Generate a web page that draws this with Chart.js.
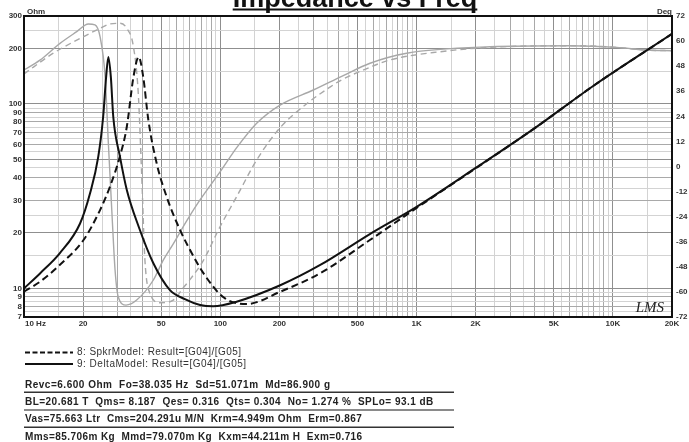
<!DOCTYPE html>
<html><head><meta charset="utf-8">
<script src="https://cdn.jsdelivr.net/npm/chart.js@4.4.1/dist/chart.umd.min.js"></script>
<style>html,body{margin:0;padding:0;background:#fff;}canvas{display:block;}</style>
</head><body>
<canvas id="c" width="689" height="442"></canvas>
<script>
// ---- Impedance (Ohm), DeltaModel (solid black)
const freqZDelta = [10, 12.1, 15.2, 19.3, 21.7, 23.9, 25.3, 26.2, 26.9, 27.7, 28.5, 30.8, 33.4, 38.4, 45.6, 55.4, 66, 78.9, 92, 121, 202, 323, 578, 1000, 2000, 4000, 8000, 20000];
const zDelta     = [10.0, 12.1, 15.5, 22.5, 32.8, 51.8, 85, 140, 180, 140, 85, 52, 34.2, 21.6, 13.7, 9.8, 8.75, 8.13, 8.0, 8.47, 10.4, 13.4, 19.7, 27.7, 45, 74, 126, 240];
// ---- Impedance (Ohm), SpkrModel (dashed black)
const freqZSpkr = [10, 12.1, 15.2, 20.1, 24.4, 27.4, 30.8, 33.4, 36.1, 38.4, 40.5, 43, 47.4, 53.3, 62.4, 73.1, 82, 103.8, 136, 202, 323, 578, 1000, 2000, 4000, 8000, 20000];
const zSpkr     = [9.6, 10.9, 13.4, 18.3, 26.6, 35.6, 52, 75.3, 140, 180, 140, 81.9, 47.7, 31.4, 20.7, 14.9, 12.1, 8.95, 8.23, 9.6, 12.1, 18.3, 27.3, 44.8, 74, 126, 240];
// ---- Phase (Deg), DeltaModel (solid grey)
const freqPDelta = [10, 12.06, 15.25, 18.56, 21.27, 23.0, 24.4, 25.9, 26.9, 28.0, 29.1, 30.2, 33.1, 37.5, 45.6, 51.3, 57.6, 67.4, 78.8, 101.6, 121.2, 153.2, 201.5, 297.7, 423, 579, 890, 2365, 6046, 10450, 14870, 20000];
const pDelta     = [46.2, 50.9, 58.9, 64.5, 68.2, 67.7, 62.1, 43, 11.1, -20.8, -49.5, -62.3, -66.3, -63.9, -54.3, -44.7, -37, -26, -16, -1.5, 9, 20.7, 29.4, 36.6, 43.5, 49.4, 54.2, 57.3, 57.8, 57, 55.7, 55.4];
// ---- Phase (Deg), SpkrModel (dashed grey)
const freqPSpkr = [10, 14.1, 20.86, 24.4, 27.4, 30.8, 33.4, 36.1, 38.2, 39.8, 41.3, 43.8, 49.3, 57.6, 64.8, 70.2, 81.9, 99.7, 121.2, 153.2, 201.5, 275.5, 362, 407, 579, 732, 1316, 2365, 6046, 10450, 14870, 20000];
const pSpkr     = [44.3, 54.2, 62.9, 66.1, 68.2, 68.5, 66.1, 57.3, 35, -4.9, -44.7, -60.7, -65.2, -63.9, -58, -54, -45, -28.8, -14.4, 3.1, 18.5, 30, 38, 41, 47.5, 51, 54.9, 57, 57.8, 57, 55.7, 55.4];

// ---- Axis tick labels
const xLabelValues = [10, 20, 50, 100, 200, 500, 1000, 2000, 5000, 10000, 20000];
const xLabelTexts  = ['10 Hz', '20', '50', '100', '200', '500', '1K', '2K', '5K', '10K', '20K'];
const yLabelValues = [300, 200, 100, 90, 80, 70, 60, 50, 40, 30, 20, 10, 9, 8, 7];
const y2LabelValues = [72, 60, 48, 36, 24, 12, 0, -12, -24, -36, -48, -60, -72];

// ---- Legend / parameter texts
const legendTexts = ['8: SpkrModel: Result=[G04]/[G05]', '9: DeltaModel: Result=[G04]/[G05]'];
const paramRows = [
  'Revc=6.600 Ohm  Fo=38.035 Hz  Sd=51.071m  Md=86.900 g',
  'BL=20.681 T  Qms= 8.187  Qes= 0.316  Qts= 0.304  No= 1.274 %  SPLo= 93.1 dB',
  'Vas=75.663 Ltr  Cms=204.291u M/N  Krm=4.949m Ohm  Erm=0.867',
  'Mms=85.706m Kg  Mmd=79.070m Kg  Kxm=44.211m H  Exm=0.716'
];

// grid positions: every half-step of the mantissa
function halfSteps(lo, hi) {
  const out = [];
  for (let d = 1; d <= 10000; d *= 10) {
    for (let m = 1; m < 10; m += 0.5) {
      const v = +(m * d).toFixed(3);
      if (v >= lo && v <= hi) out.push(v);
    }
  }
  if (out[out.length - 1] !== hi) out.push(hi);
  return out;
}
const xGridValues = halfSteps(10, 20000);
const yGridValues = halfSteps(7, 300);

function gridColor(v) {
  const p = Math.pow(10, Math.floor(Math.log10(v) + 1e-9));
  const m = Math.round(v / p * 10) / 10;
  if (m === 1 || m === 2 || m === 5) return '#8f8f8f';
  if (Number.isInteger(m)) return '#a9a9a9';
  return '#d3d3d3';
}
const pts = (xs, ys) => xs.map((x, i) => ({ x, y: ys[i] }));

const FONT = '"Liberation Sans", Arial, Helvetica, sans-serif';
function fitText(ctx, text, x, y, width) {
  const w = ctx.measureText(text).width;
  const n = text.length;
  if ('letterSpacing' in ctx && n > 1) {
    ctx.letterSpacing = ((width - w) / (n - 1)).toFixed(2) + 'px';
  }
  ctx.fillText(text, x, y);
  if ('letterSpacing' in ctx) ctx.letterSpacing = '0px';
}

const overlay = {
  id: 'overlay',
  afterDraw(chart) {
    const { ctx, chartArea: a, scales } = chart;
    ctx.save();
    // frame
    ctx.strokeStyle = '#111';
    ctx.lineWidth = 2;
    ctx.strokeRect(a.left, a.top, a.right - a.left, a.bottom - a.top);

    // title
    ctx.fillStyle = '#111';
    ctx.font = 'bold 27px ' + FONT;
    ctx.textAlign = 'center';
    ctx.textBaseline = 'alphabetic';
    const title = 'Impedance vs Freq';
    const tw = ctx.measureText(title).width;
    ctx.fillText(title, 355, 7);
    ctx.fillRect(355 - tw / 2, 8.5, tw, 2);

    // axis tick labels
    ctx.font = 'bold 8px ' + FONT;
    ctx.fillStyle = '#333';
    ctx.textBaseline = 'middle';
    ctx.textAlign = 'right';
    yLabelValues.forEach(v => ctx.fillText(String(v), a.left - 2, scales.y.getPixelForValue(v)));
    ctx.textAlign = 'left';
    y2LabelValues.forEach(v => ctx.fillText(String(v), a.right + 4, scales.y2.getPixelForValue(v)));
    xLabelValues.forEach((v, i) => {
      const px = scales.x.getPixelForValue(v);
      if (i === 0) { ctx.textAlign = 'left'; ctx.fillText(xLabelTexts[i], px + 1, a.bottom + 7); }
      else { ctx.textAlign = 'center'; ctx.fillText(xLabelTexts[i], px, a.bottom + 7); }
    });
    ctx.textBaseline = 'alphabetic';
    ctx.textAlign = 'left';
    ctx.fillText('Ohm', a.left + 3, a.top - 2);
    ctx.textAlign = 'right';
    ctx.fillText('Deg', a.right, a.top - 2);

    // LMS mark
    ctx.font = 'italic 15px "Liberation Serif", serif';
    ctx.fillStyle = '#222';
    ctx.textAlign = 'right';
    ctx.fillText('LMS', a.right - 8, a.bottom - 5);

    // legend
    ctx.strokeStyle = '#111';
    ctx.lineWidth = 2;
    ctx.setLineDash([5, 2.5]);
    ctx.beginPath(); ctx.moveTo(25, 352.5); ctx.lineTo(73, 352.5); ctx.stroke();
    ctx.setLineDash([]);
    ctx.beginPath(); ctx.moveTo(25, 364); ctx.lineTo(73, 364); ctx.stroke();
    ctx.font = '10px ' + FONT;
    ctx.fillStyle = '#333';
    ctx.textAlign = 'left';
    ctx.textBaseline = 'middle';
    fitText(ctx, legendTexts[0], 77, 352.5, 164);
    fitText(ctx, legendTexts[1], 77, 364, 169);

    // parameter rows
    ctx.font = 'bold 10px ' + FONT;
    ctx.fillStyle = '#222';
    const rowY = [385, 402.5, 419.5, 437];
    const rowW = [305, 408, 337, 337];
    paramRows.forEach((t, i) => fitText(ctx, t, 25, rowY[i], rowW[i]));
    // separator lines
    ctx.fillStyle = '#333';
    ctx.fillRect(24, 391.5, 430, 1.5);
    ctx.fillStyle = '#8a8a8a';
    ctx.fillRect(24, 409, 430, 2);
    ctx.fillStyle = '#333';
    ctx.fillRect(24, 426.5, 430, 1.5);
    ctx.restore();
  }
};

const common = { pointRadius: 0, fill: false, cubicInterpolationMode: 'monotone' };

new Chart(document.getElementById('c'), {
  type: 'line',
  data: {
    datasets: [
      Object.assign({ label: '9: DeltaModel', data: pts(freqZDelta, zDelta), yAxisID: 'y', borderColor: '#111', borderWidth: 2 }, common),
      Object.assign({ label: '8: SpkrModel', data: pts(freqZSpkr, zSpkr), yAxisID: 'y', borderColor: '#111', borderWidth: 2, borderDash: [7, 4] }, common),
      Object.assign({ label: '9: DeltaModel phase', data: pts(freqPDelta, pDelta), yAxisID: 'y2', borderColor: '#a8a8a8', borderWidth: 1.4 }, common),
      Object.assign({ label: '8: SpkrModel phase', data: pts(freqPSpkr, pSpkr), yAxisID: 'y2', borderColor: '#a8a8a8', borderWidth: 1.4, borderDash: [6, 4] }, common)
    ]
  },
  options: {
    responsive: false,
    animation: false,
    devicePixelRatio: 1,
    layout: { padding: { left: 24, right: 17, top: 16, bottom: 125 } },
    plugins: { legend: { display: false }, tooltip: { enabled: false } },
    scales: {
      x: {
        type: 'logarithmic', min: 10, max: 20000,
        afterBuildTicks: s => { s.ticks = xGridValues.map(v => ({ value: v })); },
        afterFit: s => { s.height = 0; },
        ticks: { display: false, autoSkip: false },
        grid: { drawTicks: false, lineWidth: 1, color: c => gridColor(c.tick ? c.tick.value : 10) },
        border: { display: false }
      },
      y: {
        type: 'logarithmic', position: 'left', min: 7, max: 300,
        afterBuildTicks: s => { s.ticks = yGridValues.map(v => ({ value: v })); },
        afterFit: s => { s.width = 0; },
        ticks: { display: false, autoSkip: false },
        grid: { drawTicks: false, lineWidth: 1, color: c => gridColor(c.tick ? c.tick.value : 10) },
        border: { display: false }
      },
      y2: {
        type: 'linear', position: 'right', min: -72, max: 72,
        afterFit: s => { s.width = 0; },
        ticks: { display: false },
        grid: { display: false, drawTicks: false },
        border: { display: false }
      }
    }
  },
  plugins: [overlay]
});
</script>
</body></html>
